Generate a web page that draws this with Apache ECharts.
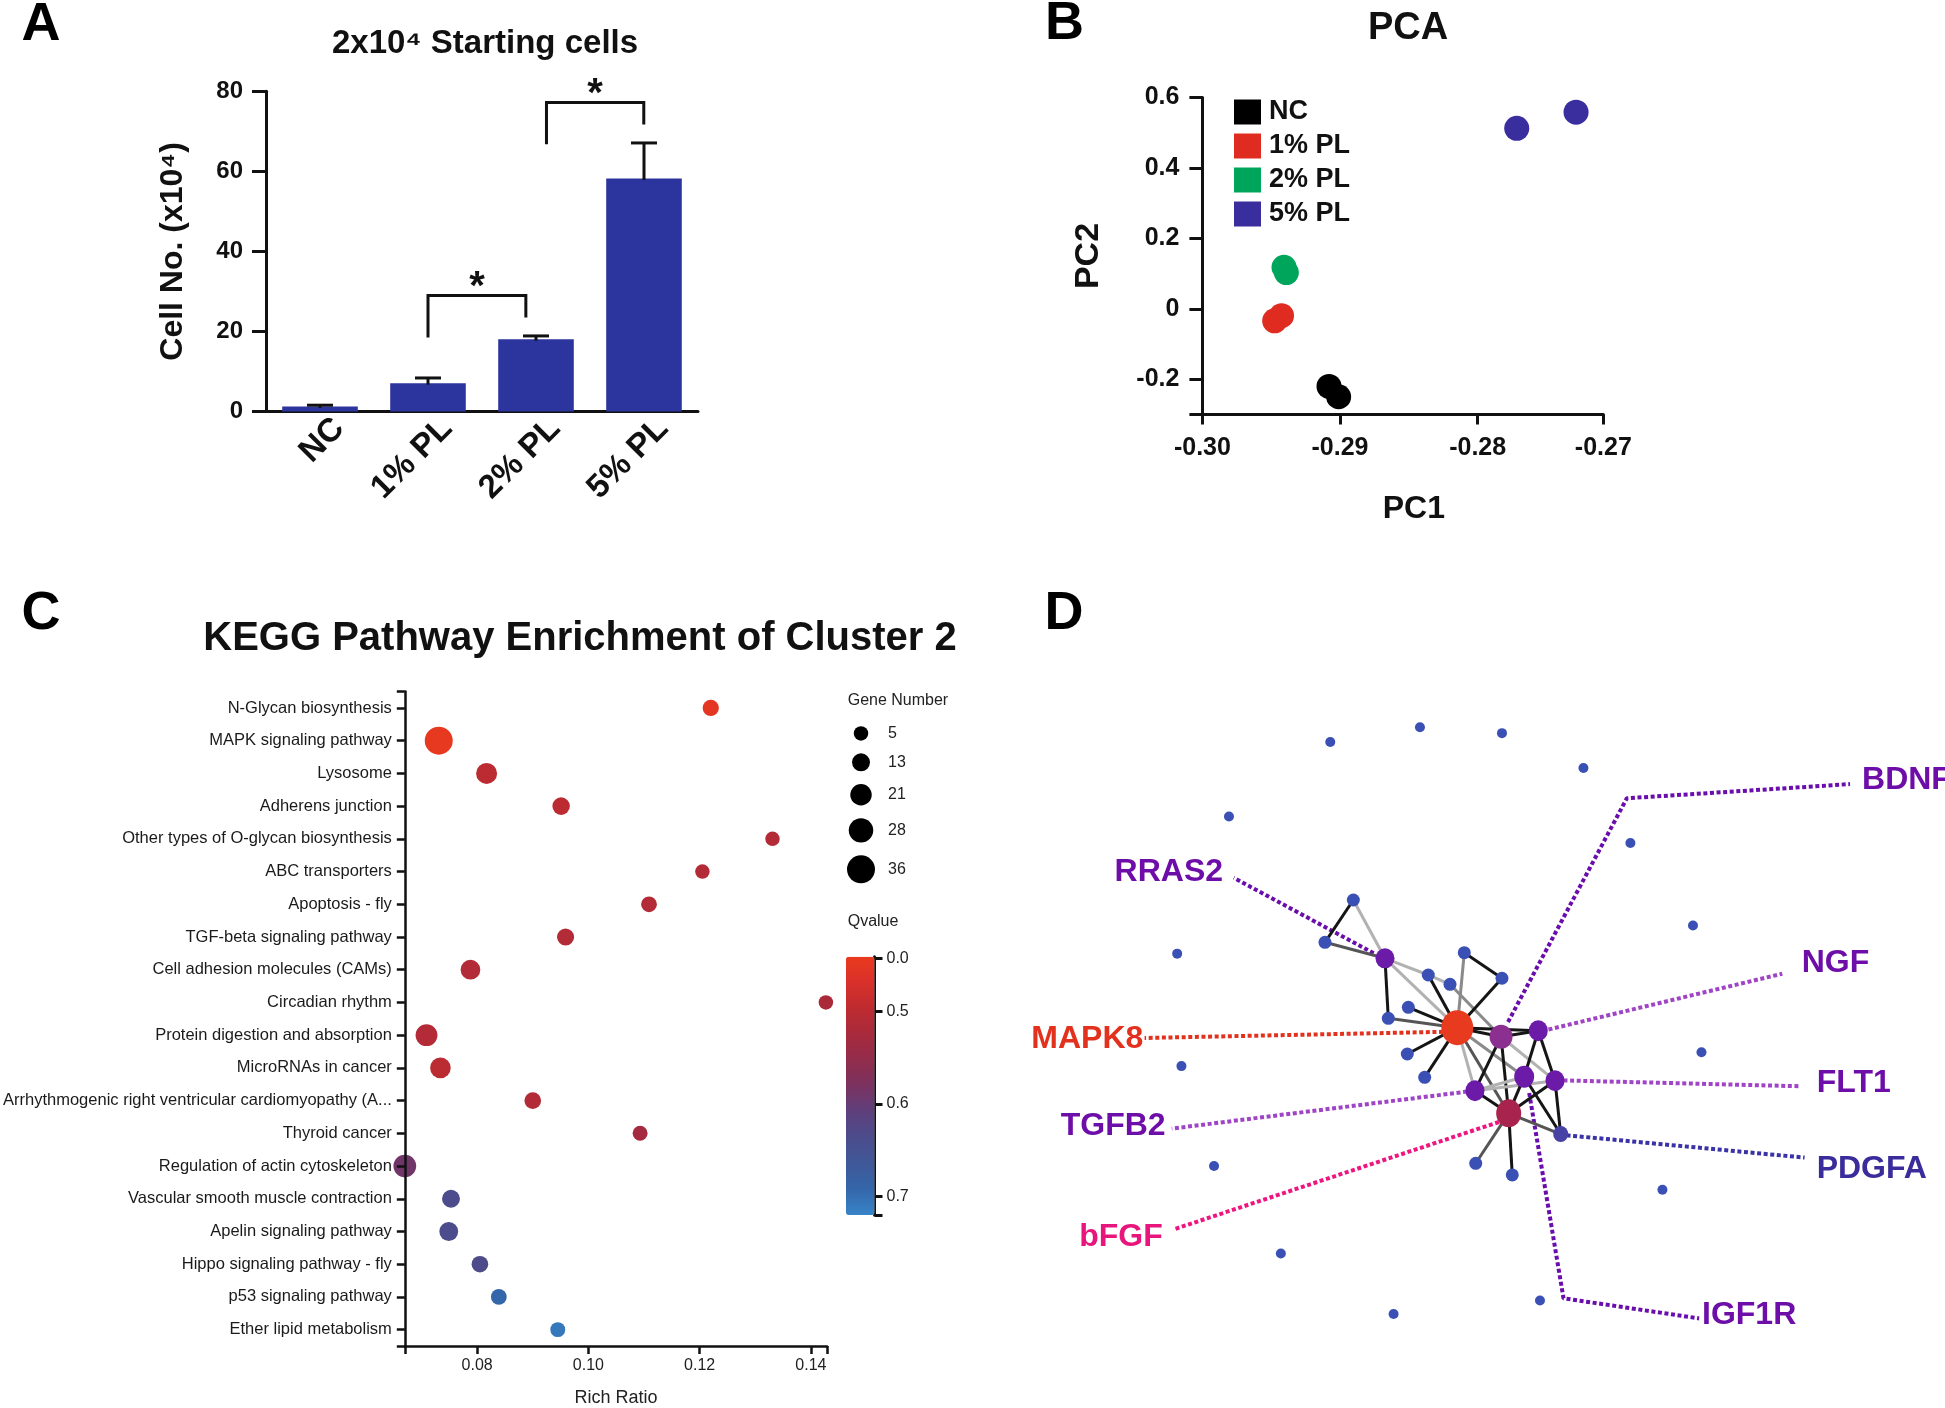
<!DOCTYPE html>
<html><head><meta charset="utf-8">
<script src="https://cdn.jsdelivr.net/npm/echarts@6/dist/echarts.min.js"></script>
<style>html,body{margin:0;padding:0;background:#fff}#c{width:1945px;height:1408px}</style>
</head><body><div id="c"></div>
<script>
// ---------- Panel A data ----------
const aCategories = ['NC', '1% PL', '2% PL', '5% PL'];
const aMeans = [1.3, 7.1, 18.1, 58.2];
const aErrors = [0.3, 1.3, 0.8, 8.9];
// significance brackets: [left x, right x, left foot, right foot, top] (category units / cell numbers)
const aBrackets = [[1.0, 1.906, 18.5, 23.5, 29.0], [2.097, 2.998, 66.8, 71.7, 77.2]];

// ---------- Panel B data ----------
const pcaGroups = ['NC', '1% PL', '2% PL', '5% PL'];
const pcaPC1 = [[-0.2908, -0.2901], [-0.29475, -0.29425], [-0.29407, -0.2939], [-0.27716, -0.27285]];
const pcaPC2 = [[-0.2205, -0.2498], [-0.0342, -0.0194], [0.1178, 0.1030], [0.5126, 0.5585]];
const pcaXTicks = [-0.30, -0.29, -0.28, -0.27087];
const pcaYTicks = [-0.2, 0, 0.2, 0.4, 0.6];

// ---------- Panel C data ----------
const keggPathways = ['N-Glycan biosynthesis', 'MAPK signaling pathway', 'Lysosome', 'Adherens junction',
  'Other types of O-glycan biosynthesis', 'ABC transporters', 'Apoptosis - fly', 'TGF-beta signaling pathway',
  'Cell adhesion molecules (CAMs)', 'Circadian rhythm', 'Protein digestion and absorption', 'MicroRNAs in cancer',
  'Arrhythmogenic right ventricular cardiomyopathy (A...', 'Thyroid cancer', 'Regulation of actin cytoskeleton',
  'Vascular smooth muscle contraction', 'Apelin signaling pathway', 'Hippo signaling pathway - fly',
  'p53 signaling pathway', 'Ether lipid metabolism'];
const keggRichRatio = [0.1220, 0.0731, 0.0817, 0.0951, 0.1331, 0.1205, 0.1109, 0.0959, 0.0788, 0.1427,
  0.0709, 0.0734, 0.0900, 0.1093, 0.0670, 0.0753, 0.0749, 0.0805, 0.0839, 0.0945];
const keggGeneNumber = [9, 36, 20, 12, 5, 5, 8, 11, 17, 5, 22, 19, 10, 6, 24, 13, 15, 10, 8, 6];
const keggQvalue = [0.08, 0.02, 0.49, 0.49, 0.51, 0.51, 0.51, 0.51, 0.51, 0.52, 0.51, 0.50, 0.51, 0.53,
  0.589, 0.636, 0.636, 0.633, 0.692, 0.709];
const richRatioTicks = [0.08, 0.10, 0.12, 0.14];
const geneNumberLegend = [5, 13, 21, 28, 36];
const qvalueTicks = [0.0, 0.5, 0.6, 0.7];

// ---------- Panel D data (layout units 0-100) ----------
const netNodeNames = ['i1','i2','i3','i4','i5','i6','i7','i8','i9','i10','i11','i12','i13','i14','i15',
  'p1','p2','RRAS2','p4','p5','p6','p7','p8','p9','MAPK8','BDNF','NGF','p13','p14','IGF1R','FLT1','TGFB2','bFGF','PDGFA','p20','p21'];
const netNodeX = [44.44,53.12,34.95,61.74,24.23,66.71,73.33,18.75,74.23,19.20,22.65,70.10,29.72,57.14,41.65,
  37.39,34.39,40.74,45.32,47.62,49.13,53.12,43.21,41.09,48.39,53.02,56.96,43.10,44.94,55.47,58.73,50.26,53.83,59.33,50.34,54.21];
const netNodeY = [6.76,7.59,8.86,12.57,19.51,23.29,35.07,39.09,53.19,55.16,69.44,72.83,81.94,88.64,90.56,
  31.43,37.47,39.76,42.14,43.47,38.96,42.61,46.76,48.33,49.67,50.96,50.10,53.43,56.76,56.67,57.24,58.67,61.90,64.86,69.04,70.71];
const netEdges = [['p1','p2','k'],['p1','RRAS2','l'],['p2','RRAS2','d'],['RRAS2','p9','k'],['RRAS2','p4','l'],['p4','p5','l'],
  ['RRAS2','MAPK8','l'],['p4','MAPK8','k'],['p5','BDNF','g'],['p6','MAPK8','g'],['p6','p7','k'],['p7','MAPK8','k'],
  ['p8','MAPK8','k'],['p9','MAPK8','d'],['p13','MAPK8','k'],['p14','MAPK8','k'],['MAPK8','BDNF','k'],['MAPK8','NGF','k'],
  ['MAPK8','TGFB2','l'],['MAPK8','bFGF','d'],['MAPK8','IGF1R','g'],['BDNF','NGF','k'],['BDNF','TGFB2','k'],['BDNF','bFGF','k'],
  ['BDNF','FLT1','l'],['NGF','IGF1R','k'],['NGF','FLT1','k'],['TGFB2','IGF1R','l'],['TGFB2','FLT1','l'],['TGFB2','bFGF','k'],
  ['IGF1R','bFGF','k'],['IGF1R','PDGFA','k'],['FLT1','bFGF','k'],['FLT1','PDGFA','k'],['bFGF','PDGFA','d'],['bFGF','p20','d'],['bFGF','p21','k']];
const netLabelGenes = ['BDNF','NGF','MAPK8','FLT1','TGFB2','PDGFA','bFGF','IGF1R','RRAS2'];
const netLeaderPaths = [
  [[53.76,48.86],[66.33,16.90],[89.95,14.87]],
  [[58.04,49.93],[82.78,41.96]],
  [[46.88,50.26],[15.30,51.14]],
  [[59.63,57.20],[84.51,58.03]],
  [[49.42,58.80],[18.18,64.09]],
  [[59.95,65.04],[85.14,68.23]],
  [[52.80,63.14],[18.50,78.43]],
  [[56.00,59.00],[59.63,88.33],[73.98,91.20]],
  [[39.54,39.03],[24.74,28.26]]];
const netLabelAnchors = [[91.22,14.30],[84.83,40.50],[15.17,51.29],[86.42,57.57],[17.53,63.77],[86.42,69.83],[17.22,79.57],[74.29,90.71],[23.60,27.43]];

// ---------- styling ----------
const FONT = "'Liberation Sans', Arial, Helvetica, sans-serif";
const INK = '#111';
const axisLineK = {show: true, onZero: false, lineStyle: {color: INK, width: 3}};
const axisLineC = {show: true, onZero: false, lineStyle: {color: INK, width: 2.5}};
const bubbleSize = n => 12.3 + 0.435 * n;
const qScaleQ = [0, 0.5, 0.6, 0.7, 0.72];
const qScaleT = [0.006, 0.213, 0.570, 0.929, 1];
function qToT(q) {
  for (let i = 1; i < qScaleQ.length; i++) {
    if (q <= qScaleQ[i]) {
      const f = (q - qScaleQ[i - 1]) / (qScaleQ[i] - qScaleQ[i - 1]);
      return qScaleT[i - 1] + f * (qScaleT[i] - qScaleT[i - 1]);
    }
  }
  return 1;
}
const qColors = ['#ea3a1e','#d8302a','#be2b30','#a82a3c','#922c4c','#7a3260','#5e3f7c','#4c4c8c','#3f5898','#3466aa','#3784c8'];
const pcaColors = ['#000000', '#e02b20', '#00a55c', '#3a2d9e'];
const toneColor = {k: '#151515', d: '#555555', g: '#8a8a8a', l: '#b2b2b2'};
const geneNodeStyle = {
  MAPK8: {c: '#e83a1e', s: [32, 35]}, BDNF: {c: '#8b2f91', s: [23, 24]}, NGF: {c: '#6c1aa8', s: [19, 21]},
  RRAS2: {c: '#6c1aa8', s: [19, 20]}, TGFB2: {c: '#6c1aa8', s: [19, 21]}, IGF1R: {c: '#6c1aa8', s: [20, 22]},
  FLT1: {c: '#6c1aa8', s: [19, 21]}, bFGF: {c: '#a8244e', s: [25, 28]}, PDGFA: {c: '#4742a4', s: [15, 16]}
};
const geneLabelColor = {MAPK8: '#e2321e', bFGF: '#e8157c', PDGFA: '#3b2c9c'};
const geneLeaderColor = {BDNF: '#6a0dad', RRAS2: '#6a0dad', IGF1R: '#6a0dad', NGF: '#a044c6', FLT1: '#a044c6',
  TGFB2: '#a044c6', MAPK8: '#e2321e', bFGF: '#ef1580', PDGFA: '#3a32a6'};

// legend layout for Gene Number (stacked by symbol size)
const legendSizes = geneNumberLegend.map(bubbleSize);
const legendY = [];
let acc = 18.4;
legendSizes.forEach((s, i) => { if (i > 0) acc += (legendSizes[i - 1] + s) / 2 + 12.7; legendY.push(acc); });

const series = [];
// A: bars
series.push({type: 'bar', xAxisIndex: 0, yAxisIndex: 0, data: aMeans, barWidth: '70%',
  itemStyle: {color: '#2c349e'}, z: 2});
// A: error bars
series.push({type: 'custom', xAxisIndex: 0, yAxisIndex: 0, z: 3,
  data: aMeans.map((m, i) => [i, m, m + aErrors[i]]),
  encode: {x: 0, y: [1, 2]},
  renderItem: (params, api) => {
    const top = api.coord([api.value(0), api.value(2)]);
    const base = api.coord([api.value(0), api.value(1)]);
    const hw = 13;
    return {type: 'group', children: [
      {type: 'line', shape: {x1: top[0], y1: base[1] + 1.5, x2: top[0], y2: top[1]}, style: {stroke: INK, lineWidth: 3}},
      {type: 'line', shape: {x1: top[0] - hw, y1: top[1], x2: top[0] + hw, y2: top[1]}, style: {stroke: INK, lineWidth: 3}}
    ]};
  }});
// A: brackets
aBrackets.forEach(b => series.push({type: 'line', xAxisIndex: 1, yAxisIndex: 0, symbol: 'none', clip: false, z: 3,
  data: [[b[0], b[2]], [b[0], b[4]], [b[1], b[4]], [b[1], b[3]]],
  lineStyle: {color: INK, width: 3, cap: 'butt', join: 'miter'}}));
// A: stars
series.push({type: 'scatter', xAxisIndex: 1, yAxisIndex: 0, symbolSize: 1, clip: false, z: 4,
  itemStyle: {color: 'transparent', opacity: 1},
  data: aBrackets.map(b => [(b[0] + b[1]) / 2, b[4] + 1.9]),
  label: {show: true, position: 'inside', formatter: '*', color: INK, fontFamily: FONT, fontWeight: 'bold', fontSize: 40}});
// B: PCA groups
pcaGroups.forEach((g, gi) => series.push({type: 'scatter', name: g, xAxisIndex: 2, yAxisIndex: 1,
  symbolSize: 25, itemStyle: {color: pcaColors[gi], opacity: 1}, clip: false,
  data: pcaPC1[gi].map((x, j) => [x, pcaPC2[gi][j]])}));
// C: bubbles
const bubbleSeriesIndex = series.length;
series.push({type: 'scatter', xAxisIndex: 3, yAxisIndex: 2, clip: false, z: 2,
  data: keggRichRatio.map((r, i) => [r, i, keggGeneNumber[i], qToT(keggQvalue[i]), keggQvalue[i]]),
  symbolSize: v => bubbleSize(v[2]), itemStyle: {opacity: 1}});
// C: gene-number legend
series.push({type: 'scatter', xAxisIndex: 4, yAxisIndex: 3, clip: false,
  data: geneNumberLegend.map((n, i) => [15, legendY[i], n]),
  symbolSize: v => bubbleSize(v[2]), itemStyle: {color: '#000', opacity: 1},
  label: {show: true, position: 'inside', align: 'left', offset: [27, 0], formatter: p => String(p.value[2]),
    color: '#222', fontFamily: FONT, fontSize: 16}});
// D: network
series.push({type: 'graph', coordinateSystem: 'cartesian2d', xAxisIndex: 6, yAxisIndex: 5, layout: 'none', z: 4,
  roam: false, label: {show: false}, emphasis: {disabled: true},
  lineStyle: {opacity: 1, width: 3, curveness: 0},
  data: netNodeNames.map((n, i) => {
    const st = geneNodeStyle[n];
    let size = n[0] === 'i' ? 10 : 13, color = '#3a50b4';
    if (st) { size = st.s; color = st.c; }
    return {name: n, value: [netNodeX[i], netNodeY[i]], symbolSize: size, itemStyle: {color: color, opacity: 1}};
  }),
  links: netEdges.map(e => ({source: e[0], target: e[1], lineStyle: {color: toneColor[e[2]], width: 3, opacity: 1}}))});
// D: dotted leaders
netLabelGenes.forEach((g, i) => series.push({type: 'line', xAxisIndex: 6, yAxisIndex: 5, symbol: 'none', clip: false, z: 3,
  data: netLeaderPaths[i], lineStyle: {color: geneLeaderColor[g], width: 4, type: [4, 2.6], cap: 'butt', opacity: 1}}));
// D: gene labels
series.push({type: 'scatter', xAxisIndex: 6, yAxisIndex: 5, symbolSize: 1, clip: false, z: 5,
  itemStyle: {color: 'transparent', opacity: 1},
  data: netLabelGenes.map((g, i) => ({name: g, value: netLabelAnchors[i],
    label: {align: netLabelAnchors[i][0] < 50 ? 'right' : 'left', color: geneLabelColor[g] || '#6e0ea8'}})),
  label: {show: true, position: 'inside', verticalAlign: 'middle', formatter: '{b}', fontFamily: FONT,
    fontWeight: 'bold', fontSize: 32, opacity: 1}});

const hiddenAxis = (grid, min, max, inverse) => ({type: 'value', gridIndex: grid, min: min, max: max, inverse: !!inverse, show: false});

const option = {
  animation: false,
  backgroundColor: '#ffffff',
  textStyle: {fontFamily: FONT},
  grid: [
    {left: 266, top: 91.3, width: 432, height: 320.3, containLabel: false},
    {left: 1202.4, top: 97.6, width: 400.9, height: 316.8, containLabel: false},
    {left: 401.8, top: 691.6, width: 425.2, height: 658.4, containLabel: false},
    {left: 846, top: 715, width: 80, height: 175, containLabel: false},
    {left: 846, top: 956.7, width: 28.5, height: 258.3, containLabel: false},
    {left: 1000, top: 680, width: 945, height: 700, containLabel: false}
  ],
  xAxis: [
    {type: 'category', gridIndex: 0, data: aCategories, axisLine: axisLineK, axisTick: {show: false},
      axisLabel: {rotate: 45, margin: 31, padding: [0, -27, 0, 0], color: INK, fontFamily: FONT, fontWeight: 'bold', fontSize: 33, interval: 0}},
    hiddenAxis(0, -0.5, 3.5),
    {type: 'value', gridIndex: 1, min: -0.30, max: -0.27087, axisLine: axisLineK, splitLine: {show: false},
      axisTick: {show: true, length: 10, lineStyle: {color: INK, width: 3}, customValues: pcaXTicks},
      axisLabel: {customValues: pcaXTicks, formatter: v => v.toFixed(2), margin: 21, color: INK, fontFamily: FONT, fontWeight: 'bold', fontSize: 25},
      name: 'PC1', nameLocation: 'middle', nameGap: 79,
      nameTextStyle: {color: INK, fontFamily: FONT, fontWeight: 'bold', fontSize: 32, padding: [0, 0, 0, 22]}},
    {type: 'value', gridIndex: 2, min: 0.067, max: 0.1429, axisLine: axisLineC, splitLine: {show: false},
      axisTick: {show: true, length: 8, lineStyle: {color: INK, width: 2.5}, customValues: [0.067].concat(richRatioTicks, [0.1429])},
      axisLabel: {customValues: richRatioTicks, formatter: v => v.toFixed(2), margin: 12, color: '#222', fontFamily: FONT, fontSize: 16},
      name: 'Rich Ratio', nameLocation: 'middle', nameGap: 43, nameTextStyle: {color: '#222', fontFamily: FONT, fontSize: 18}, z: 5},
    hiddenAxis(3, 0, 80),
    hiddenAxis(4, 0, 1),
    hiddenAxis(5, 0, 100)
  ],
  yAxis: [
    {type: 'value', gridIndex: 0, min: 0, max: 80, interval: 20, axisLine: axisLineK, splitLine: {show: false},
      axisTick: {show: true, length: 14, lineStyle: {color: INK, width: 3}},
      axisLabel: {margin: 23, color: INK, fontFamily: FONT, fontWeight: 'bold', fontSize: 24},
      name: 'Cell No. (x10\u2074)', nameLocation: 'middle', nameGap: 77, nameRotate: 90,
      nameTextStyle: {color: INK, fontFamily: FONT, fontWeight: 'bold', fontSize: 32}},
    {type: 'value', gridIndex: 1, min: -0.3, max: 0.6, axisLine: axisLineK, splitLine: {show: false},
      axisTick: {show: true, length: 13, lineStyle: {color: INK, width: 3}, customValues: [-0.3].concat(pcaYTicks)},
      axisLabel: {customValues: pcaYTicks, margin: 23, color: INK, fontFamily: FONT, fontWeight: 'bold', fontSize: 25},
      name: 'PC2', nameLocation: 'middle', nameGap: 97, nameRotate: 90,
      nameTextStyle: {color: INK, fontFamily: FONT, fontWeight: 'bold', fontSize: 34}},
    {type: 'value', gridIndex: 2, min: -0.5, max: 19.5, inverse: true, axisLine: axisLineC,
      splitLine: {show: false}, z: 5,
      axisTick: {show: true, length: 8, lineStyle: {color: INK, width: 2.5}, customValues: [-0.5].concat(keggPathways.map((p, i) => i), [19.5])},
      axisLabel: {customValues: keggPathways.map((p, i) => i), formatter: v => keggPathways[Math.round(v)], margin: 13,
        color: '#1a1a1a', fontFamily: FONT, fontSize: 16.5}},
    hiddenAxis(3, 0, 175, true),
    {type: 'value', gridIndex: 4, min: 0, max: 1, inverse: true, position: 'right', axisLine: axisLineK, splitLine: {show: false},
      axisTick: {show: true, length: 8, lineStyle: {color: INK, width: 3}, customValues: qvalueTicks.map(qToT).concat([1])},
      axisLabel: {customValues: qvalueTicks.map(qToT), margin: 12, color: '#222', fontFamily: FONT, fontSize: 16,
        formatter: v => { let best = 0; qvalueTicks.forEach((q, i) => { if (Math.abs(qToT(q) - v) < Math.abs(qToT(qvalueTicks[best]) - v)) best = i; }); return qvalueTicks[best].toFixed(1); }}},
    hiddenAxis(5, 0, 100, true)
  ],
  legend: {show: true, data: pcaGroups, orient: 'vertical', left: 1234, top: 98.5, itemWidth: 27, itemHeight: 25, itemGap: 7,
    icon: 'rect', selectedMode: false, padding: 0,
    textStyle: {color: INK, fontFamily: FONT, fontWeight: 'bold', fontSize: 27, padding: [0, 0, 0, 3]}},
  visualMap: {type: 'continuous', min: 0, max: 1, dimension: 3, seriesIndex: bubbleSeriesIndex, calculable: false,
    orient: 'vertical', inverse: true, left: 846, top: 956.7, itemWidth: 28.5, itemHeight: 258.3, padding: 0,
    hoverLink: false, inRange: {color: qColors}},
  graphic: [
    {type: 'text', x: 41, y: 25, style: {text: 'A', font: 'bold 54px ' + FONT, fill: '#000', align: 'center', verticalAlign: 'middle'}},
    {type: 'text', x: 1064.5, y: 24, style: {text: 'B', font: 'bold 54px ' + FONT, fill: '#000', align: 'center', verticalAlign: 'middle'}},
    {type: 'text', x: 41, y: 614, style: {text: 'C', font: 'bold 54px ' + FONT, fill: '#000', align: 'center', verticalAlign: 'middle'}},
    {type: 'text', x: 1064, y: 614, style: {text: 'D', font: 'bold 54px ' + FONT, fill: '#000', align: 'center', verticalAlign: 'middle'}},
    {type: 'text', x: 485, y: 44, style: {text: '2x10\u2074 Starting cells', font: 'bold 33px ' + FONT, fill: INK, align: 'center', verticalAlign: 'middle'}},
    {type: 'text', x: 1408, y: 29, style: {text: 'PCA', font: 'bold 38px ' + FONT, fill: INK, align: 'center', verticalAlign: 'middle'}},
    {type: 'text', x: 580, y: 639, style: {text: 'KEGG Pathway Enrichment of Cluster 2', font: 'bold 40px ' + FONT, fill: INK, align: 'center', verticalAlign: 'middle'}},
    {type: 'text', x: 847.7, y: 700.9, style: {text: 'Gene Number', font: '16px ' + FONT, fill: '#222', align: 'left', verticalAlign: 'middle'}},
    {type: 'text', x: 847.7, y: 921.4, style: {text: 'Qvalue', font: '16px ' + FONT, fill: '#222', align: 'left', verticalAlign: 'middle'}}
  ],
  series: series
};
const chart = echarts.init(document.getElementById('c'), null, {renderer: 'canvas', width: 1945, height: 1408});
chart.setOption(option);
</script>
</body></html>
